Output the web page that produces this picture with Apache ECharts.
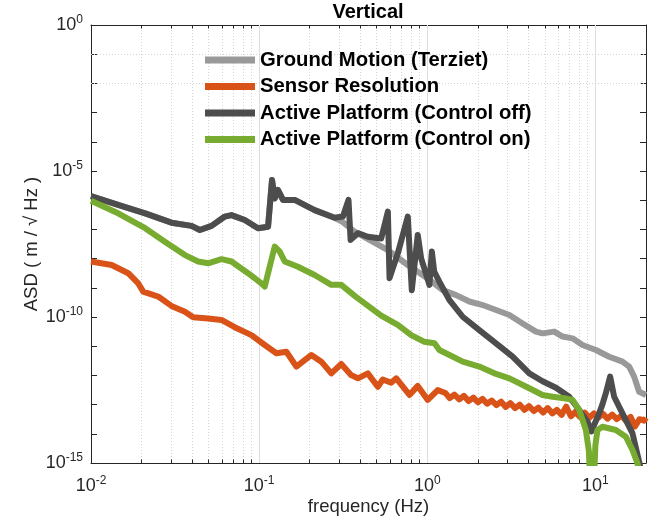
<!DOCTYPE html>
<html><head><meta charset="utf-8">
<script src="https://cdn.jsdelivr.net/npm/echarts@6/dist/echarts.min.js"></script>
<style>html,body{margin:0;padding:0;background:#fff}#c{width:651px;height:521px}</style>
</head><body><div id="c"></div>
<script>
const FONT = "'Liberation Sans', Arial, Helvetica, sans-serif";
const seriesNames = ['Ground Motion (Terziet)', 'Sensor Resolution', 'Active Platform (Control off)', 'Active Platform (Control on)'];
const seriesColors = ['#999999', '#D95319', '#4D4D4D', '#77AC30'];

const groundFreq = [0.01,0.0145,0.021,0.0301,0.0396,0.0444,0.0521,0.0625,0.0685,0.0821,0.0985,0.113,0.1193,0.1238,0.1295,0.1387,0.1627,0.2138,0.281,0.315,0.37,0.583,0.766,1.007,1.236,1.485,1.78,2.136,2.565,3.08,3.69,4.43,4.85,5.69,6.38,7.31,8.38,10.07,12.08,14.49,15.88,17.0,18.2,20];
const groundASD = [1.39e-6,6.92e-7,3.55e-7,1.70e-7,1.32e-7,9.55e-8,1.32e-7,2.75e-7,3.09e-7,2.09e-7,1.10e-7,1.23e-7,4.9e-6,1.15e-6,2.24e-6,1.02e-6,1.02e-6,4.57e-7,2.51e-7,1.78e-7,8.32e-8,1.95e-8,6.03e-9,2.09e-9,8.32e-10,5.62e-10,3.39e-10,2.57e-10,1.74e-10,1.17e-10,6.03e-11,3.16e-11,2.75e-11,3.16e-11,2.14e-11,1.86e-11,1.10e-11,7.41e-12,4.37e-12,2.95e-12,2.0e-12,9.12e-13,2.75e-13,2.14e-13];

const sensorFreq = [0.01,0.01327,0.01665,0.0191,0.02045,0.0251,0.0301,0.0362,0.0405,0.0497,0.0597,0.0716,0.090,0.108,0.1267,0.1452,0.1666,0.2045,0.2344,0.2687,0.308,0.353,0.387,0.443,0.508,0.544,0.610,0.654,0.784,0.878,1.007,1.154,1.28,1.36,1.45,1.55,1.65,1.76,1.88,2.0,2.13,2.27,2.42,2.58,2.75,2.93,3.12,3.33,3.55,3.78,4.03,4.3,4.58,4.88,5.2,5.55,5.9,6.3,6.7,7.15,7.6,8.1,8.65,9.2,9.8,10.4,11.1,11.8,12.6,13.4,14.3,15.2,16.2,17.2,18.3,19.5,20];
const sensorASD = [7.94e-9,6.03e-9,3.16e-9,1.41e-9,7.41e-10,5.01e-10,2.40e-10,1.51e-10,9.77e-11,8.91e-11,7.94e-11,4.47e-11,2.40e-11,1.10e-11,5.75e-12,6.46e-12,2.0e-12,5.01e-12,2.95e-12,1.17e-12,2.45e-12,1.02e-12,7.94e-13,1.17e-12,4.07e-13,7.24e-13,5.62e-13,7.94e-13,2.14e-13,4.37e-13,1.45e-13,3.16e-13,2.51e-13,1.66e-13,2.19e-13,1.51e-13,2.0e-13,1.32e-13,1.74e-13,1.20e-13,1.58e-13,1.07e-13,1.38e-13,9.55e-14,1.26e-13,8.32e-14,1.12e-13,7.59e-14,1.0e-13,6.61e-14,8.91e-14,6.03e-14,7.94e-14,5.37e-14,7.59e-14,5.01e-14,6.61e-14,4.47e-14,8.51e-14,3.98e-14,5.62e-14,3.80e-14,5.25e-14,3.55e-14,5.01e-14,3.55e-14,4.79e-14,3.31e-14,4.57e-14,3.16e-14,4.17e-14,2.82e-14,3.80e-14,1.78e-14,3.16e-14,2.82e-14,3.55e-14];

const offFreq = [0.01,0.0145,0.021,0.0301,0.0396,0.0444,0.0521,0.0625,0.0685,0.0821,0.0985,0.113,0.1193,0.1238,0.1295,0.1387,0.1627,0.2138,0.281,0.315,0.340,0.350,0.387,0.443,0.532,0.583,0.5965,0.668,0.766,0.809,0.878,0.920,1.03,1.065,1.1,1.18,1.355,1.625,2.04,2.565,3.22,4.045,4.85,5.83,6.99,8.01,9.0,9.45,10.53,11.0,11.54,12.24,12.93,14.49,16.61,18.2,18.6];
const offASD = [1.39e-6,6.92e-7,3.55e-7,1.70e-7,1.32e-7,9.55e-8,1.32e-7,2.75e-7,3.09e-7,2.09e-7,1.10e-7,1.23e-7,4.9e-6,1.15e-6,2.24e-6,1.02e-6,1.02e-6,4.57e-7,2.51e-7,2.75e-7,1.02e-6,4.37e-8,7.41e-8,5.62e-8,4.90e-8,4.07e-7,2.14e-9,1.51e-8,2.75e-7,8.32e-10,6.46e-8,1.02e-8,1.26e-9,1.74e-8,3.55e-9,1.62e-9,3.80e-10,1.02e-10,3.55e-11,1.26e-11,4.37e-12,1.17e-12,6.31e-13,3.80e-13,1.86e-13,6.61e-14,2.51e-14,1.2e-14,5.01e-14,1.0e-13,2.45e-13,9.12e-13,1.86e-13,5.01e-14,1.05e-14,1.12e-15,6e-16];

const onFreq = [0.01,0.0145,0.021,0.0275,0.0362,0.0434,0.0497,0.0597,0.0685,0.0859,0.1032,0.108,0.1238,0.1326,0.142,0.170,0.2138,0.2687,0.308,0.375,0.532,0.668,0.803,0.962,1.104,1.18,1.355,1.625,2.04,2.565,3.08,4.045,4.85,5.56,6.68,7.31,8.01,8.78,9.15,9.35,9.75,10.0,10.29,11.02,13.24,15.17,16.61,17.78,18.5];
const onASD = [9.55e-7,3.55e-7,1.10e-7,3.80e-8,1.32e-8,7.94e-9,6.92e-9,9.55e-9,7.94e-9,3.16e-9,1.41e-9,1.10e-9,2.57e-8,1.74e-8,7.94e-9,5.25e-9,2.75e-9,1.26e-9,1.26e-9,5.0e-10,1.12e-10,5.37e-11,2.40e-11,1.41e-11,1.26e-11,7.41e-12,5.01e-12,2.95e-12,2.0e-12,1.12e-12,7.94e-13,3.63e-13,2.14e-13,1.86e-13,1.62e-13,1.45e-13,6.61e-14,1.35e-14,2.5e-15,1e-16,1e-16,4e-15,1.35e-14,1.74e-14,1.35e-14,7.94e-15,2.82e-15,1e-15,3e-16];

const xMin = 0.01, xMax = 20, yMin = 1e-15, yMax = 1;
const xTickLabels = ['10^-2', '10^-1', '10^0', '10^1'];
const yTickLabels = ['10^-15', '10^-10', '10^-5', '10^0'];

const freqs = [groundFreq, sensorFreq, offFreq, onFreq];
const asds = [groundASD, sensorASD, offASD, onASD];

function isPow10(v) { const l = Math.log10(v); return Math.abs(l - Math.round(l)) < 1e-6; }
function supLabel(v) { return '{b|10}{s|' + Math.round(Math.log10(v)) + '}'; }
const rich = {
  b: { fontSize: 18, fontFamily: FONT, color: '#262626', lineHeight: 22 },
  s: { fontSize: 12, fontFamily: FONT, color: '#262626', lineHeight: 12, verticalAlign: 'top' }
};

// grid lines and minor ticks (drawn via the axis scales)
const gridMarks = [];
const majorGrid = { color: '#dedede', width: 1, type: 'solid' };
const minorGrid = { color: '#d4d4d4', width: 1, type: [1, 2] };
const tickStyle = { color: '#262626', width: 1, type: 'solid' };
for (let e = -2; e <= 1; e++) {
  const base = Math.pow(10, e);
  if (e > -2) gridMarks.push({ xAxis: base, lineStyle: majorGrid });
  for (let k = 2; k <= 9; k++) {
    const v = k * base;
    if (v >= xMax) break;
    gridMarks.push({ xAxis: v, lineStyle: minorGrid });
    gridMarks.push([{ coord: [v, yMin], lineStyle: tickStyle }, { coord: [v, yMin * 1.32] }]);
    gridMarks.push([{ coord: [v, yMax], lineStyle: tickStyle }, { coord: [v, yMax / 1.32] }]);
  }
}
for (let e = -14; e <= -1; e++) {
  gridMarks.push({ yAxis: Math.pow(10, e), lineStyle: (e % 5 === 0) ? majorGrid : minorGrid });
}

const series = [{
  name: 'grid', type: 'line', data: [[xMin, yMin]], showSymbol: false, symbol: 'none',
  lineStyle: { opacity: 0 }, z: 1, silent: true, animation: false,
  markLine: { z: 1, zlevel: 0, silent: true, symbol: ['none', 'none'], label: { show: false }, animation: false,
    emphasis: { disabled: true }, data: gridMarks }
}];
seriesNames.forEach((n, i) => {
  series.push({
    name: n, type: 'line', showSymbol: false, symbol: 'none', z: 3 + i, clip: true,
    color: seriesColors[i], animation: false,
    itemStyle: { color: seriesColors[i] },
    lineStyle: { width: 6, color: seriesColors[i], join: 'round' },
    data: freqs[i].map((f, j) => [f, asds[i][j]])
  });
});

const axisLineStyle = { show: true, lineStyle: { color: '#262626', width: 1 } };
const chart = echarts.init(document.getElementById('c'));
chart.setOption({
  animation: false,
  backgroundColor: '#ffffff',
  title: { text: 'Vertical', left: 368, top: 2, textAlign: 'center', padding: 0,
    textStyle: { fontSize: 20, fontWeight: 'bold', color: '#000', fontFamily: FONT } },
  legend: { data: seriesNames, orient: 'vertical', left: 205, top: 50, padding: 0, z: 10,
    itemWidth: 50, itemHeight: 7, itemGap: 6.5, icon: 'rect', selectedMode: false,
    itemStyle: { borderWidth: 0 },
    textStyle: { fontSize: 20.3, fontWeight: 'bold', color: '#000', fontFamily: FONT, lineHeight: 20 } },
  grid: { left: 91, right: 5, top: 25, bottom: 58, containLabel: false },
  xAxis: [{
    type: 'log', logBase: 10, min: xMin, max: xMax, position: 'bottom',
    axisLine: axisLineStyle,
    axisTick: { show: true, inside: true, length: 6, lineStyle: { color: '#262626' } },
    splitLine: { show: false },
    axisLabel: { margin: 12, showMinLabel: true, showMaxLabel: true,
      formatter: v => (isPow10(v) && xTickLabels.includes('10^' + Math.round(Math.log10(v)))) ? supLabel(v) : '', rich },
    name: 'frequency (Hz)', nameLocation: 'middle', nameGap: 34, nameMoveOverlap: false,
    nameTextStyle: { fontSize: 18.5, color: '#262626', fontFamily: FONT }
  }, {
    type: 'log', logBase: 10, min: xMin, max: xMax, position: 'top',
    axisLine: axisLineStyle,
    axisTick: { show: true, inside: true, length: 6, lineStyle: { color: '#262626' } },
    splitLine: { show: false }, axisLabel: { show: false }
  }],
  yAxis: [{
    type: 'log', logBase: 10, min: yMin, max: yMax, interval: 1, position: 'left',
    axisLine: axisLineStyle,
    axisTick: { show: true, inside: true, length: 6, lineStyle: { color: '#262626' } },
    splitLine: { show: false },
    axisLabel: { margin: 8, showMinLabel: true, showMaxLabel: true,
      formatter: v => (isPow10(v) && yTickLabels.includes('10^' + Math.round(Math.log10(v)))) ? supLabel(v) : '', rich },
    name: 'ASD ( m / √ Hz )', nameLocation: 'middle', nameGap: 50, nameMoveOverlap: false,
    nameTextStyle: { fontSize: 18.5, color: '#262626', fontFamily: FONT }
  }, {
    type: 'log', logBase: 10, min: yMin, max: yMax, interval: 1, position: 'right',
    axisLine: axisLineStyle,
    axisTick: { show: true, inside: true, length: 6, lineStyle: { color: '#262626' } },
    splitLine: { show: false }, axisLabel: { show: false }
  }],
  series
});
</script>
</body></html>
